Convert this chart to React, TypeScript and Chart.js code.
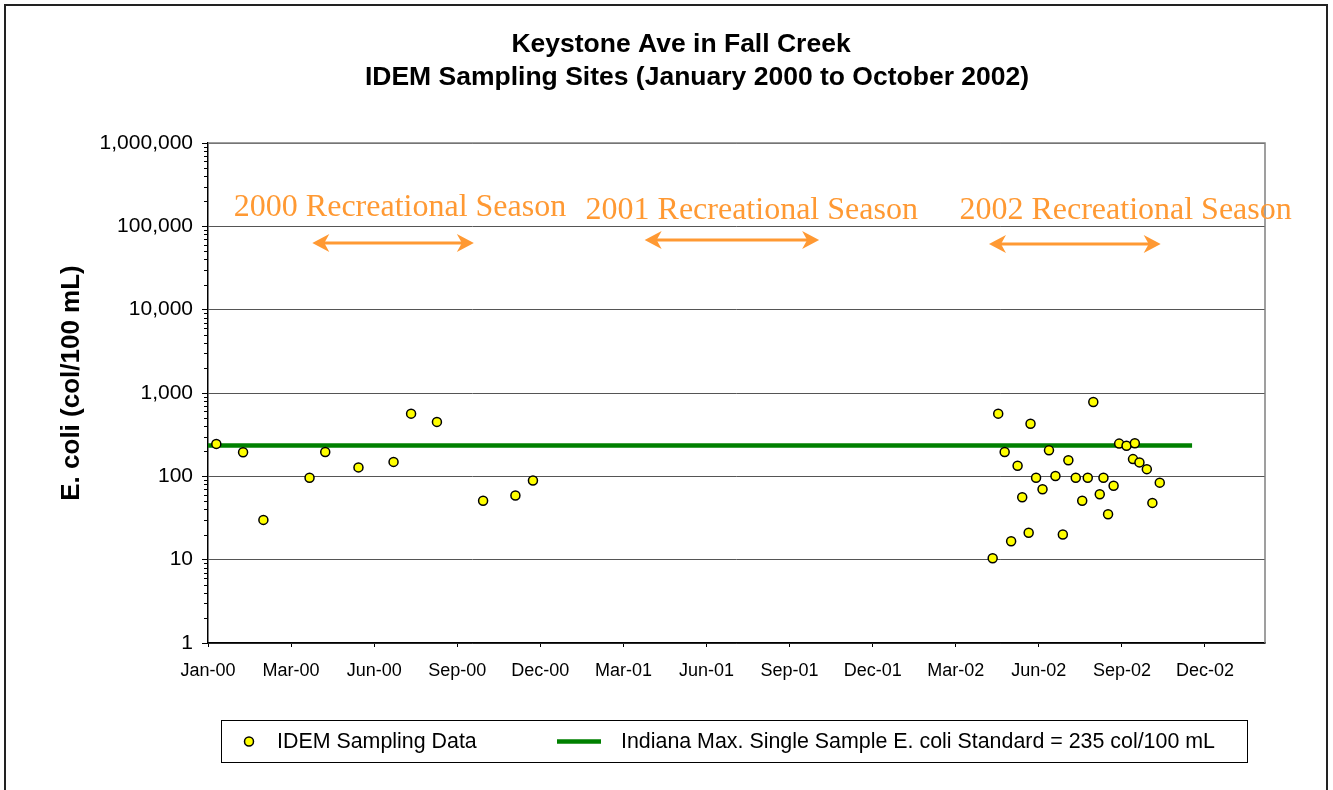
import React, { useEffect, useRef } from 'react';
import { Chart, registerables } from 'chart.js';

Chart.register(...registerables);

// ---------- data ----------
const chartTitle = ['Keystone Ave in Fall Creek', 'IDEM Sampling Sites (January 2000 to October 2002)'];
const yAxisTitle = 'E. coli (col/100 mL)';
const seriesLabels = ['IDEM Sampling Data', 'Indiana Max. Single Sample E. coli Standard = 235 col/100 mL'];

const sampleDates = [
  '2000-01-10', '2000-02-08', '2000-03-01', '2000-04-20', '2000-05-07', '2000-06-12',
  '2000-07-20', '2000-08-08', '2000-09-05', '2000-10-25', '2000-11-29', '2000-12-18',
  '2002-04-30', '2002-05-06', '2002-05-13', '2002-05-20', '2002-05-27', '2002-06-01',
  '2002-06-08', '2002-06-10', '2002-06-16', '2002-06-23', '2002-06-30', '2002-07-07',
  '2002-07-15', '2002-07-21', '2002-07-29', '2002-08-05', '2002-08-11', '2002-08-17',
  '2002-08-24', '2002-08-28', '2002-09-02', '2002-09-08', '2002-09-14', '2002-09-22',
  '2002-09-29', '2002-10-01', '2002-10-06', '2002-10-14', '2002-10-20', '2002-10-28',
];
const ecoliValues = [
  245, 195, 30, 96, 196, 128,
  149, 565, 450, 51, 59, 89,
  10.4, 565, 196, 16.6, 134, 56,
  21, 428, 96, 70, 205, 101,
  20, 156, 96, 51, 96, 780,
  61, 96, 35, 77, 247, 233,
  161, 249, 147, 122, 48, 84,
];

const standardDates = ['2000-01-01', '2002-12-02'];
const standardValues = [235, 235];

const axisStartDate = '2000-01-01';
const axisEndDate = '2003-02-19';
const xTickStepDays = 90;
const xTickLabels = [
  'Jan-00', 'Mar-00', 'Jun-00', 'Sep-00', 'Dec-00', 'Mar-01', 'Jun-01',
  'Sep-01', 'Dec-01', 'Mar-02', 'Jun-02', 'Sep-02', 'Dec-02',
];
const yTickValues = [1, 10, 100, 1000, 10000, 100000, 1000000];

const seasonLabels = ['2000 Recreational Season', '2001 Recreational Season', '2002 Recreational Season'];
const seasonStartDates = ['2000-04-23', '2001-04-18', '2002-04-26'];
const seasonEndDates = ['2000-10-15', '2001-10-24', '2002-10-29'];
const seasonArrowValues = [63000, 68600, 61400];
const seasonLabelDates = ['2000-07-27', '2001-08-12', '2002-09-21'];
const seasonLabelValues = [133000, 122000, 122000];

// ---------- helpers ----------
const DAY_MS = 86400000;
const toDay = (s: string) => {
  const [y, m, d] = s.split('-').map(Number);
  const [y0, m0, d0] = axisStartDate.split('-').map(Number);
  return Math.round((Date.UTC(y, m - 1, d) - Date.UTC(y0, m0 - 1, d0)) / DAY_MS);
};

const SANS = '"Liberation Sans", Arial, sans-serif';
const SERIF = '"Liberation Serif", "Times New Roman", serif';
const ORANGE = '#FF9933';

function drawArrowHead(ctx: CanvasRenderingContext2D, tipX: number, y: number, dir: number) {
  const len = 17;
  const hw = 9;
  const notch = 5;
  ctx.beginPath();
  ctx.moveTo(tipX, y);
  ctx.lineTo(tipX + dir * len, y - hw);
  ctx.lineTo(tipX + dir * (len - notch), y);
  ctx.lineTo(tipX + dir * len, y + hw);
  ctx.closePath();
  ctx.fill();
}

const decorPlugin = {
  id: 'decor',
  afterDraw(chart: any) {
    const ctx: CanvasRenderingContext2D = chart.ctx;
    const { left, right, top, bottom } = chart.chartArea;
    const xs = chart.scales.x;
    const ys = chart.scales.y;
    ctx.save();

    // chart title (two centred lines)
    ctx.fillStyle = '#000';
    ctx.font = `bold 26.5px ${SANS}`;
    ctx.textAlign = 'center';
    ctx.textBaseline = 'middle';
    ctx.fillText(chartTitle[0], 681, 45);
    ctx.fillText(chartTitle[1], 697, 78);

    // plot-area border (top / right)
    ctx.strokeStyle = '#808080';
    ctx.lineWidth = 1.5;
    ctx.beginPath();
    ctx.moveTo(left, top);
    ctx.lineTo(right, top);
    ctx.lineTo(right, bottom);
    ctx.stroke();

    // minor log ticks on the value axis
    ctx.strokeStyle = '#000';
    ctx.lineWidth = 1;
    for (let k = 0; k < yTickValues.length - 1; k++) {
      for (let m = 2; m <= 9; m++) {
        const py = Math.round(ys.getPixelForValue(yTickValues[k] * m)) + 0.5;
        ctx.beginPath();
        ctx.moveTo(left - 4, py);
        ctx.lineTo(left, py);
        ctx.stroke();
      }
    }

    // season annotations
    ctx.fillStyle = ORANGE;
    ctx.strokeStyle = ORANGE;
    ctx.font = `32px ${SERIF}`;
    ctx.textAlign = 'center';
    ctx.textBaseline = 'alphabetic';
    seasonLabels.forEach((label, i) => {
      const tx = xs.getPixelForValue(toDay(seasonLabelDates[i]));
      const ty = ys.getPixelForValue(seasonLabelValues[i]);
      ctx.fillText(label, tx, ty);
      const x1 = xs.getPixelForValue(toDay(seasonStartDates[i]));
      const x2 = xs.getPixelForValue(toDay(seasonEndDates[i]));
      const ay = ys.getPixelForValue(seasonArrowValues[i]);
      ctx.lineWidth = 3;
      ctx.beginPath();
      ctx.moveTo(x1 + 10, ay);
      ctx.lineTo(x2 - 10, ay);
      ctx.stroke();
      drawArrowHead(ctx, x1, ay, 1);
      drawArrowHead(ctx, x2, ay, -1);
    });

    // y axis title
    ctx.save();
    ctx.translate(72, (top + bottom) / 2 - 10);
    ctx.rotate(-Math.PI / 2);
    ctx.fillStyle = '#000';
    ctx.font = `bold 26px ${SANS}`;
    ctx.textAlign = 'center';
    ctx.textBaseline = 'middle';
    ctx.fillText(yAxisTitle, 0, 0);
    ctx.restore();

    // legend box
    const lx = 221.5, ly = 720.5, lw = 1026, lh = 42;
    ctx.fillStyle = '#fff';
    ctx.fillRect(lx, ly, lw, lh);
    ctx.strokeStyle = '#000';
    ctx.lineWidth = 1;
    ctx.strokeRect(lx, ly, lw, lh);
    const cy = ly + lh / 2;
    const d0 = chart.data.datasets[0];
    const d1 = chart.data.datasets[1];
    ctx.beginPath();
    ctx.arc(249, cy, d0.pointRadius, 0, Math.PI * 2);
    ctx.fillStyle = d0.backgroundColor;
    ctx.fill();
    ctx.lineWidth = d0.borderWidth;
    ctx.strokeStyle = d0.borderColor;
    ctx.stroke();
    ctx.beginPath();
    ctx.moveTo(557, cy);
    ctx.lineTo(601, cy);
    ctx.lineWidth = d1.borderWidth;
    ctx.strokeStyle = d1.borderColor;
    ctx.stroke();
    ctx.fillStyle = '#000';
    ctx.font = `21.4px ${SANS}`;
    ctx.textAlign = 'left';
    ctx.textBaseline = 'middle';
    ctx.fillText(d0.label, 277, cy + 1);
    ctx.fillText(d1.label, 621, cy + 1);

    // outer chart border
    ctx.strokeStyle = '#222';
    ctx.lineWidth = 2;
    ctx.strokeRect(5, 5, 1322, 800);

    ctx.restore();
  },
};

export default function App() {
  const canvasRef = useRef<HTMLCanvasElement | null>(null);

  useEffect(() => {
    const canvas = canvasRef.current;
    if (!canvas) return;
    const chart = new Chart(canvas, {
      type: 'scatter',
      data: {
        datasets: [
          {
            type: 'scatter',
            label: seriesLabels[0],
            data: sampleDates.map((d, i) => ({ x: toDay(d), y: ecoliValues[i] })),
            pointRadius: 4.5,
            pointHoverRadius: 4.5,
            backgroundColor: '#FFFF00',
            borderColor: '#000000',
            borderWidth: 1.5,
          },
          {
            type: 'line',
            label: seriesLabels[1],
            data: standardDates.map((d, i) => ({ x: toDay(d), y: standardValues[i] })),
            borderColor: '#008000',
            backgroundColor: '#008000',
            borderWidth: 4.5,
            pointRadius: 0,
            fill: false,
          } as any,
        ],
      },
      options: {
        animation: false,
        responsive: false,
        maintainAspectRatio: false,
        devicePixelRatio: 1,
        events: [],
        layout: { padding: { left: 99, right: 68, top: 143, bottom: 107 } },
        plugins: {
          legend: { display: false },
          tooltip: { enabled: false },
          title: { display: false },
        },
        scales: {
          x: {
            type: 'linear',
            min: toDay(axisStartDate),
            max: toDay(axisEndDate),
            afterBuildTicks: (scale: any) => {
              scale.ticks = xTickLabels.map((_, i) => ({ value: i * xTickStepDays }));
            },
            afterFit: (scale: any) => {
              scale.height = 40;
            },
            ticks: {
              callback: (_v: any, i: number) => xTickLabels[i],
              color: '#000',
              font: { family: SANS, size: 18 },
              padding: 13,
              maxRotation: 0,
              autoSkip: false,
            },
            grid: {
              display: true,
              drawOnChartArea: false,
              drawTicks: true,
              tickLength: 4,
              tickColor: '#000',
              color: '#000',
            },
            border: { display: true, color: '#000', width: 1.5 },
          },
          y: {
            type: 'logarithmic',
            min: yTickValues[0],
            max: yTickValues[yTickValues.length - 1],
            afterBuildTicks: (scale: any) => {
              scale.ticks = yTickValues.map((v) => ({ value: v, major: true }));
            },
            afterFit: (scale: any) => {
              scale.width = 109;
            },
            ticks: {
              callback: (v: any) => Number(v).toLocaleString('en-US'),
              color: '#000',
              font: { family: SANS, size: 21 },
              padding: 9,
              autoSkip: false,
            },
            grid: {
              display: true,
              drawOnChartArea: true,
              drawTicks: true,
              tickLength: 6,
              tickColor: '#000',
              color: '#555',
              lineWidth: 1,
            },
            border: { display: true, color: '#000', width: 1.5 },
          },
        },
      },
      plugins: [decorPlugin],
    });
    return () => chart.destroy();
  }, []);

  return (
    <div style={{ position: 'fixed', left: 0, top: 0, width: 1333, height: 790, background: '#fff' }}>
      <canvas ref={canvasRef} width={1333} height={790} style={{ display: 'block', width: 1333, height: 790 }} />
    </div>
  );
}
